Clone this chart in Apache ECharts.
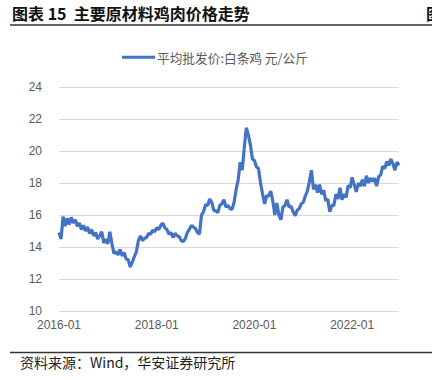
<!DOCTYPE html>
<html>
<head>
<meta charset="utf-8">
<script src="https://cdn.jsdelivr.net/npm/echarts@6/dist/echarts.min.js"></script>
<style>
html,body{margin:0;padding:0;background:#fff;}
#chart{width:432px;height:380px;}
</style>
</head>
<body>
<div id="chart"></div>
<script>
// ---- Data ----
const titleText = '图表 15  主要原材料鸡肉价格走势';
const sourceText = '资料来源：Wind，华安证券研究所';
const seriesName = '平均批发价:白条鸡 元/公斤';
const startYear = 2016;
const endYear = 2022;
// Semi-monthly observation dates (1st and 16th of each month), 2016-01-01 .. 2022-12-16
const dates = [];
for (let y = startYear; y <= endYear; y++) {
  for (let m = 1; m <= 12; m++) {
    const mm = (m < 10 ? '0' : '') + m;
    dates.push(y + '-' + mm + '-01');
    dates.push(y + '-' + mm + '-16');
  }
}
const xTickLabels = ['2016-01', '2018-01', '2020-01', '2022-01'];
const yTicks = [10, 12, 14, 16, 18, 20, 22, 24];
// Average wholesale price of white-striped chicken, yuan/kg
const chickenPrice = [
  14.9, 14.5, 15.9, 15.3, 15.8, 15.4, 15.85, 15.5, 15.7, 15.3,
  15.5, 15.1, 15.35, 15.0, 15.25, 14.85, 15.1, 14.7, 14.9, 14.5,
  14.7, 14.95, 14.25, 14.5, 14.2, 14.95, 14.2, 13.6, 13.7, 13.5,
  13.85, 13.45, 13.65, 13.25, 13.2, 12.75, 13.05, 13.4, 13.7, 14.4,
  14.7, 14.4, 14.55, 14.6, 14.85, 14.8, 15.05, 14.95, 15.2, 15.1,
  15.35, 15.5, 15.2, 15.1, 14.8, 14.9, 14.6, 14.85, 14.7, 14.65,
  14.4, 14.35, 14.5, 14.9, 15.1, 15.35, 15.25, 15.15, 14.9, 14.8,
  16.0, 16.2, 16.65, 16.6, 17.0, 16.8, 16.3, 16.25, 16.15, 16.6,
  16.7, 16.95, 16.5, 16.6, 16.4, 16.35, 16.8, 17.6, 18.2, 19.3,
  18.8, 20.2, 21.45, 21.0, 20.4, 19.5, 19.4, 19.0, 18.9, 18.0,
  17.3, 16.7, 17.2, 17.2, 17.5, 16.9, 16.0, 16.75, 16.0, 15.7,
  16.5, 16.6, 16.95, 16.5, 16.55, 16.2, 15.95, 16.3, 16.4, 16.7,
  16.8, 17.2, 17.5, 18.1, 18.8, 17.6, 17.9, 17.4, 17.9, 17.3,
  17.55, 16.9, 17.0, 16.2, 16.6, 16.6, 17.3, 17.0, 17.7, 16.95,
  17.3, 17.1, 17.85, 17.7, 18.35, 17.9, 17.45, 18.0, 17.8, 18.2,
  17.8, 18.45, 18.0, 18.3, 18.1, 18.3, 17.8, 18.4, 18.5, 19.05,
  18.9, 19.35, 19.1, 19.5, 19.2, 18.8, 19.3, 19.1
];

// ---- Chart ----
const chart = echarts.init(document.getElementById('chart'), null, {renderer: 'svg'});
const labelFont = '"Liberation Sans", Arial, sans-serif';
const cjkFont = '"Noto Sans CJK SC", sans-serif';
chart.setOption({
  backgroundColor: '#fff',
  animation: false,
  grid: {left: 59, right: 33, top: 87, bottom: 69, containLabel: false},
  legend: {
    top: 51,
    left: 122,
    padding: 0,
    icon: 'rect',
    itemWidth: 33,
    itemHeight: 3,
    itemGap: 10,
    itemStyle: {color: '#4472C4'},
    textStyle: {color: '#595959', fontSize: 12.7, fontFamily: cjkFont, padding: [0, 0, 0, -3]},
    data: [seriesName]
  },
  xAxis: {
    type: 'category',
    data: dates.slice(0, chickenPrice.length),
    boundaryGap: false,
    axisLine: {show: false},
    axisTick: {show: false},
    splitLine: {show: false},
    axisLabel: {
      color: '#595959',
      fontSize: 12,
      fontFamily: labelFont,
      margin: 8,
      interval: function (idx, val) {
        return val.slice(8) === '01' && xTickLabels.indexOf(val.slice(0, 7)) >= 0;
      },
      formatter: function (val) { return val.slice(0, 7); }
    }
  },
  yAxis: {
    type: 'value',
    min: yTicks[0],
    max: yTicks[yTicks.length - 1],
    interval: 2,
    axisLine: {show: false},
    axisTick: {show: false},
    axisLabel: {color: '#595959', fontSize: 12, fontFamily: labelFont, margin: 17},
    splitLine: {lineStyle: {color: '#d9d9d9', width: 1}}
  },
  series: [{
    name: seriesName,
    type: 'line',
    data: chickenPrice,
    symbol: 'none',
    smooth: false,
    lineStyle: {color: '#4472C4', width: 3.2},
    itemStyle: {color: '#4472C4'}
  }],
  graphic: [
    {type: 'text', left: 12, top: 5, style: {text: titleText, fill: '#111', font: 'bold 16px ' + cjkFont}},
    {type: 'text', left: 426, top: 5, style: {text: '图', fill: '#111', font: 'bold 16px ' + cjkFont}},
    {type: 'line', shape: {x1: 10, y1: 25, x2: 432, y2: 25}, style: {stroke: '#333', lineWidth: 1.3}},
    {type: 'line', shape: {x1: 10, y1: 352.5, x2: 432, y2: 352.5}, style: {stroke: '#333', lineWidth: 1.3}},
    {type: 'text', left: 20, top: 355, style: {text: sourceText, fill: '#222', font: '14px ' + cjkFont}}
  ]
});
</script>
</body>
</html>
